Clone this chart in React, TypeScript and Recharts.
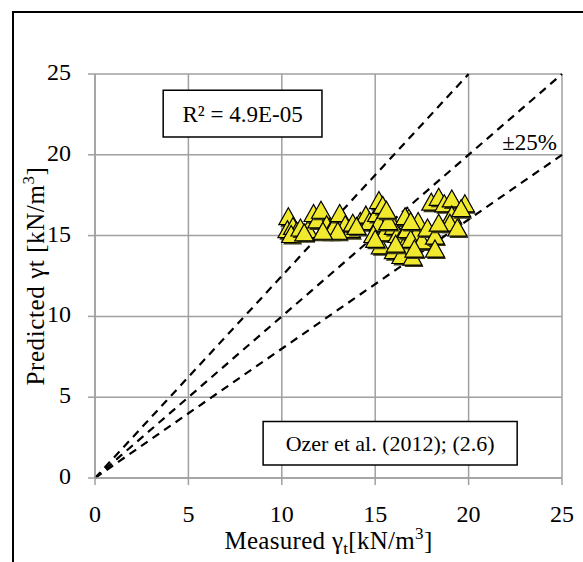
import React from 'react';
import {
  ScatterChart,
  Scatter,
  XAxis,
  YAxis,
  CartesianGrid,
  ReferenceLine,
  ReferenceArea,
  Label,
} from 'recharts';

// Measured vs. predicted unit weight γt [kN/m³]
const measured = [
  10.35, 10.3, 10.6, 10.8, 10.5, 11.0, 11.4, 11.7, 11.9, 12.1,
  12.4, 12.6, 12.8, 13.1, 13.4, 13.7, 13.8, 14.2, 14.5, 14.7,
  15.1, 15.2, 15.4, 15.2, 14.9, 15.3, 15.5, 15.8, 16.0, 16.2,
  16.3, 16.5, 16.0, 16.4, 17.0, 16.8, 16.7, 17.3, 17.2, 16.9,
  17.5, 17.8, 18.2, 18.2, 18.0, 18.4, 18.7, 19.1, 19.8, 19.1,
  19.0, 19.4, 18.4, 15.7, 16.6, 13.0, 12.2, 15.0, 16.1, 17.1,
  14.0, 11.2, 15.6, 16.9, 19.6,
];
const predicted = [
  16.2, 15.4, 15.6, 15.3, 15.1, 15.5, 15.4, 16.4, 16.0, 16.6,
  15.7, 15.3, 15.6, 16.4, 15.7, 15.4, 15.8, 15.9, 16.3, 15.9,
  16.4, 17.2, 16.9, 15.8, 15.1, 14.4, 15.2, 16.0, 15.6, 15.1,
  14.7, 14.3, 14.1, 13.8, 13.7, 16.1, 15.4, 15.9, 15.1, 14.8,
  14.7, 15.5, 15.0, 14.2, 17.1, 17.4, 17.0, 17.3, 17.0, 16.3,
  15.8, 15.5, 15.8, 15.9, 16.2, 15.3, 15.3, 14.8, 14.5, 14.2,
  15.6, 15.2, 16.6, 15.9, 16.7,
];
const points = measured.map((x, i) => ({ x, y: predicted[i] }));

const axisTicks = [0, 5, 10, 15, 20, 25];
const axisMax = 25;
// 1:1 line and the ±25 % band
const ratioLines = [1.25, 1, 0.8];

const FONT = '"Liberation Serif", serif';
const GRID = '#a0a0a0';

const Triangle = (props: any) => {
  const { cx, cy } = props;
  if (cx == null || cy == null) return null;
  const w = 9.5;
  const h = 8.5;
  const d = `M${cx},${cy - h} L${cx + w},${cy + h} L${cx - w},${cy + h} Z`;
  const ds = `M${cx + 1.5},${cy - h + 2} L${cx + w + 1.5},${cy + h + 2} L${cx - w + 1.5},${cy + h + 2} Z`;
  return (
    <g>
      <path d={ds} fill="#3a3a1a" />
      <path d={d} fill="#f0e92e" stroke="#000" strokeWidth={1.2} />
    </g>
  );
};

const XTick = (props: any) => {
  const { x, y, payload } = props;
  return (
    <text x={x} y={y + 35} textAnchor="middle" fontFamily={FONT} fontSize={24} fill="#000">
      {payload.value}
    </text>
  );
};

const YTick = (props: any) => {
  const { y, payload } = props;
  return (
    <text x={71} y={y + 6} textAnchor="end" fontFamily={FONT} fontSize={24} fill="#000">
      {payload.value}
    </text>
  );
};

const XTitle = (props: any) => {
  const vb = props.viewBox || {};
  const cx = vb.x + vb.width / 2;
  return (
    <text x={cx} y={549} textAnchor="middle" fontFamily={FONT} fontSize={25} letterSpacing={0.3} fill="#000">
      Measured γ
      <tspan fontSize={17} dy={5}>t</tspan>
      <tspan dy={-5}>[kN/m</tspan>
      <tspan fontSize={17} dy={-10}>3</tspan>
      <tspan dy={10}>]</tspan>
    </text>
  );
};

const YTitle = (props: any) => {
  const vb = props.viewBox || {};
  const cy = vb.y + vb.height / 2;
  const cx = 44;
  return (
    <text
      x={cx}
      y={cy}
      transform={`rotate(-90, ${cx}, ${cy})`}
      textAnchor="middle"
      fontFamily={FONT}
      fontSize={25}
      letterSpacing={0.6}
      fill="#000"
    >
      Predicted γt [kN/m
      <tspan fontSize={17} dy={-10}>3</tspan>
      <tspan dy={10}>]</tspan>
    </text>
  );
};

export default function App() {
  return (
    <div style={{ position: 'absolute', left: 0, top: 0, width: 583, height: 562, overflow: 'hidden', background: '#fff' }}>
      <div
        style={{
          position: 'absolute',
          left: 12,
          top: 11,
          width: 640,
          height: 640,
          border: '2px solid #000',
          boxSizing: 'border-box',
        }}
      />
      <div style={{ position: 'absolute', left: 0, top: 0 }}>
        <ScatterChart width={583} height={562} margin={{ top: 74, right: 21, bottom: 0, left: 0 }}>
          <CartesianGrid stroke={GRID} strokeWidth={1.5} horizontal vertical />
          <XAxis
            type="number"
            dataKey="x"
            domain={[0, axisMax]}
            ticks={axisTicks}
            interval={0}
            height={84}
            stroke={GRID}
            strokeWidth={1.5}
            tickSize={7}
            tick={<XTick />}
            label={<XTitle />}
          />
          <YAxis
            type="number"
            dataKey="y"
            domain={[0, axisMax]}
            ticks={axisTicks}
            interval={0}
            width={95}
            stroke={GRID}
            strokeWidth={1.5}
            tickSize={7}
            tick={<YTick />}
            label={<YTitle />}
          />
          {ratioLines.map((r) => (
            <ReferenceLine
              key={r}
              segment={[
                { x: 0, y: 0 },
                r >= 1 ? { x: axisMax / r, y: axisMax } : { x: axisMax, y: axisMax * r },
              ]}
              stroke="#000"
              strokeWidth={2.2}
              strokeDasharray="8 6"
            />
          ))}
          <ReferenceArea
            x1={3.65}
            x2={12.15}
            y1={21.1}
            y2={24.0}
            fill="#fff"
            fillOpacity={1}
            stroke="#000"
            strokeWidth={1.5}
          >
            <Label value="R² = 4.9E-05" position="center" fontFamily={FONT} fontSize={23} fill="#000" />
          </ReferenceArea>
          <ReferenceArea
            x1={9.0}
            x2={22.6}
            y1={0.8}
            y2={3.5}
            fill="#fff"
            fillOpacity={1}
            stroke="#000"
            strokeWidth={1.5}
          >
            <Label value="Ozer et al. (2012); (2.6)" position="center" fontFamily={FONT} fontSize={22} fill="#000" />
          </ReferenceArea>
          <ReferenceLine
            y={20}
            stroke="none"
            label={{ value: '±25%', position: 'insideBottomRight', fontFamily: FONT, fontSize: 23, fill: '#000', offset: 5 }}
          />
          <Scatter data={points} shape={<Triangle />} isAnimationActive={false} />
        </ScatterChart>
      </div>
    </div>
  );
}
